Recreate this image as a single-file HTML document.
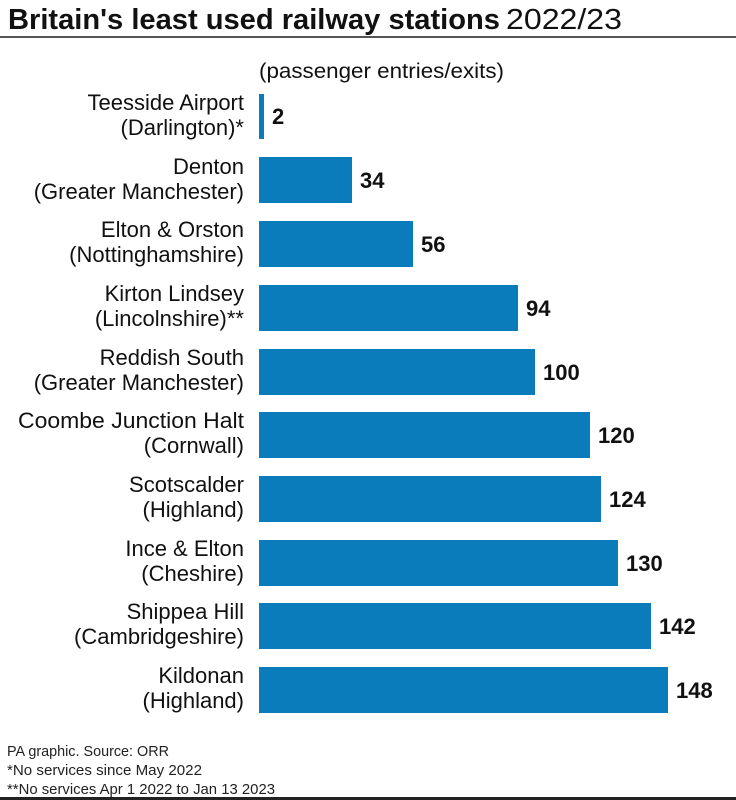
<!DOCTYPE html>
<html><head><meta charset="utf-8"><style>
body{margin:0;background:#fff;}
svg{display:block;font-family:"Liberation Sans",sans-serif;}
</style></head><body>
<svg width="736" height="800" viewBox="0 0 736 800">
<text x="8" y="29" font-size="29" font-weight="bold" fill="#111" textLength="492" lengthAdjust="spacingAndGlyphs">Britain's least used railway stations</text>
<text x="506" y="29" font-size="29" fill="#111" textLength="116" lengthAdjust="spacingAndGlyphs">2022/23</text>
<rect x="0" y="36" width="736" height="2" fill="#555"/>
<text x="259" y="78" font-size="21" fill="#111" textLength="245" lengthAdjust="spacingAndGlyphs">(passenger entries/exits)</text>
<g font-size="22" fill="#111" text-anchor="end">
<text x="244" y="110">Teesside Airport</text><text x="244" y="135">(Darlington)*</text>
<text x="244" y="174">Denton</text><text x="244" y="199">(Greater Manchester)</text>
<text x="244" y="237">Elton &amp; Orston</text><text x="244" y="262">(Nottinghamshire)</text>
<text x="244" y="301">Kirton Lindsey</text><text x="244" y="326">(Lincolnshire)**</text>
<text x="244" y="365">Reddish South</text><text x="244" y="390">(Greater Manchester)</text>
<text x="244" y="428" textLength="226" lengthAdjust="spacingAndGlyphs">Coombe Junction Halt</text><text x="244" y="453">(Cornwall)</text>
<text x="244" y="492">Scotscalder</text><text x="244" y="517">(Highland)</text>
<text x="244" y="556">Ince &amp; Elton</text><text x="244" y="581">(Cheshire)</text>
<text x="244" y="619">Shippea Hill</text><text x="244" y="644">(Cambridgeshire)</text>
<text x="244" y="683">Kildonan</text><text x="244" y="708">(Highland)</text>
</g>
<g fill="#0a7bbb">
<rect x="259" y="94" width="5" height="45"/>
<rect x="259" y="157" width="93" height="46"/>
<rect x="259" y="221" width="154" height="46"/>
<rect x="259" y="285" width="259" height="46"/>
<rect x="259" y="349" width="276" height="46"/>
<rect x="259" y="412" width="331" height="46"/>
<rect x="259" y="476" width="342" height="46"/>
<rect x="259" y="540" width="359" height="46"/>
<rect x="259" y="603" width="392" height="46"/>
<rect x="259" y="667" width="409" height="46"/>
</g>
<g font-size="22" font-weight="bold" fill="#111">
<text x="272" y="124">2</text>
<text x="360" y="188">34</text>
<text x="421" y="252">56</text>
<text x="526" y="316">94</text>
<text x="543" y="380">100</text>
<text x="598" y="443">120</text>
<text x="609" y="507">124</text>
<text x="626" y="571">130</text>
<text x="659" y="634">142</text>
<text x="676" y="698">148</text>
</g>
<g font-size="15" fill="#222">
<text x="7" y="756" textLength="162" lengthAdjust="spacingAndGlyphs">PA graphic. Source: ORR</text>
<text x="7" y="775" textLength="195" lengthAdjust="spacingAndGlyphs">*No services since May 2022</text>
<text x="7" y="794" textLength="268" lengthAdjust="spacingAndGlyphs">**No services Apr 1 2022 to Jan 13 2023</text>
</g>
<rect x="0" y="797" width="736" height="3" fill="#222"/>
</svg>
</body></html>
